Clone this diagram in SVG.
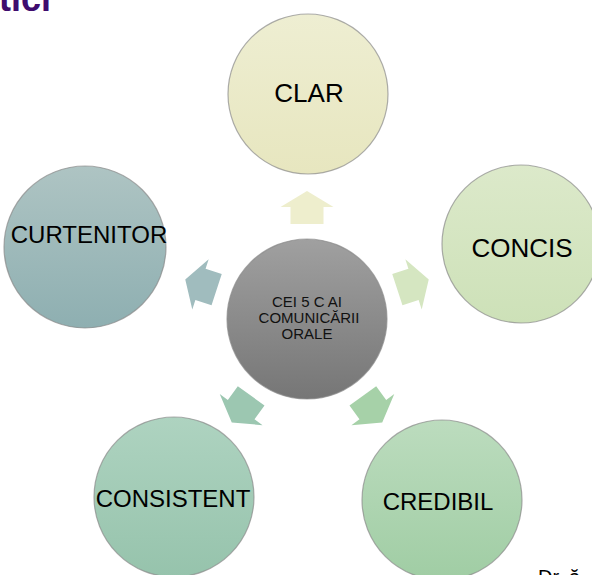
<svg xmlns="http://www.w3.org/2000/svg" width="592" height="575" viewBox="0 0 592 575">
<style>
.lbl{font-family:"Liberation Sans",Arial,sans-serif;font-size:24px;fill:#000;text-anchor:middle}
.big{font-size:26px}
.ctr{font-family:"Liberation Sans",Arial,sans-serif;font-size:15px;fill:#111;text-anchor:middle}
.circ{stroke:#8a8a8a;stroke-width:1.2;stroke-opacity:0.7}
</style>
<defs>
<linearGradient id="gClar" x1="0" y1="0" x2="0" y2="1"><stop offset="0" stop-color="#eeeed2"/><stop offset="1" stop-color="#e7e6bf"/></linearGradient>
<linearGradient id="gConcis" x1="0" y1="0" x2="0" y2="1"><stop offset="0" stop-color="#dce9ca"/><stop offset="1" stop-color="#cde1b8"/></linearGradient>
<linearGradient id="gCred" x1="0" y1="0" x2="0" y2="1"><stop offset="0" stop-color="#bcdcbe"/><stop offset="1" stop-color="#a0cda4"/></linearGradient>
<linearGradient id="gCons" x1="0" y1="0" x2="0" y2="1"><stop offset="0" stop-color="#aed3c0"/><stop offset="1" stop-color="#96c3ac"/></linearGradient>
<linearGradient id="gCurt" x1="0" y1="0" x2="0" y2="1"><stop offset="0" stop-color="#aec4c3"/><stop offset="1" stop-color="#8eafb1"/></linearGradient>
<linearGradient id="gCtr" x1="0" y1="0" x2="0" y2="1"><stop offset="0" stop-color="#a0a0a0"/><stop offset="1" stop-color="#767676"/></linearGradient>
<path id="arr" d="M290.5,224 L290.5,207 L280.5,207 L307,191 L333.5,207 L323.5,207 L323.5,224 Z"/>
</defs>
<text x="51" y="11" style="font-family:'Liberation Sans',Arial,sans-serif;font-size:36px;font-weight:bold;fill:#3f0c6e;text-anchor:end">tici</text>
<g id="connectors">
<use href="#arr" fill="#eeeecd"/>
<use href="#arr" fill="#d5e6c1" transform="rotate(72 307 319)"/>
<use href="#arr" fill="#a6d1a8" transform="rotate(144 307 319)"/>
<use href="#arr" fill="#9cc7b1" transform="rotate(-144 307 319)"/>
<use href="#arr" fill="#a0bcbe" transform="rotate(-72 307 319)"/>
</g>
<g id="node-center"><circle class="circ" cx="307" cy="319" r="80" fill="url(#gCtr)" stroke="#555"/>
<text class="ctr" x="307" y="307">CEI 5 C AI</text>
<text class="ctr" x="309" y="323">COMUNICĂRII</text>
<text class="ctr" x="307" y="339">ORALE</text></g>
<g id="node-clar"><circle class="circ" cx="308" cy="94" r="80" fill="url(#gClar)"/><text class="lbl big" x="309" y="102">CLAR</text></g>
<g id="node-concis"><circle class="circ" cx="521" cy="244" r="79" fill="url(#gConcis)"/><text class="lbl big" x="522" y="257">CONCIS</text></g>
<g id="node-credibil"><circle class="circ" cx="442" cy="500" r="80" fill="url(#gCred)"/><text class="lbl" x="438" y="510">CREDIBIL</text></g>
<g id="node-consistent"><circle class="circ" cx="174" cy="497" r="80" fill="url(#gCons)"/><text class="lbl" x="173" y="507">CONSISTENT</text></g>
<g id="node-curtenitor"><circle class="circ" cx="85" cy="247" r="81" fill="url(#gCurt)"/><text class="lbl" x="89" y="243">CURTENITOR</text></g>
<text x="538" y="584" style="font-family:'Liberation Sans',Arial,sans-serif;font-size:20px;fill:#000">Dr. ă</text>
</svg>
